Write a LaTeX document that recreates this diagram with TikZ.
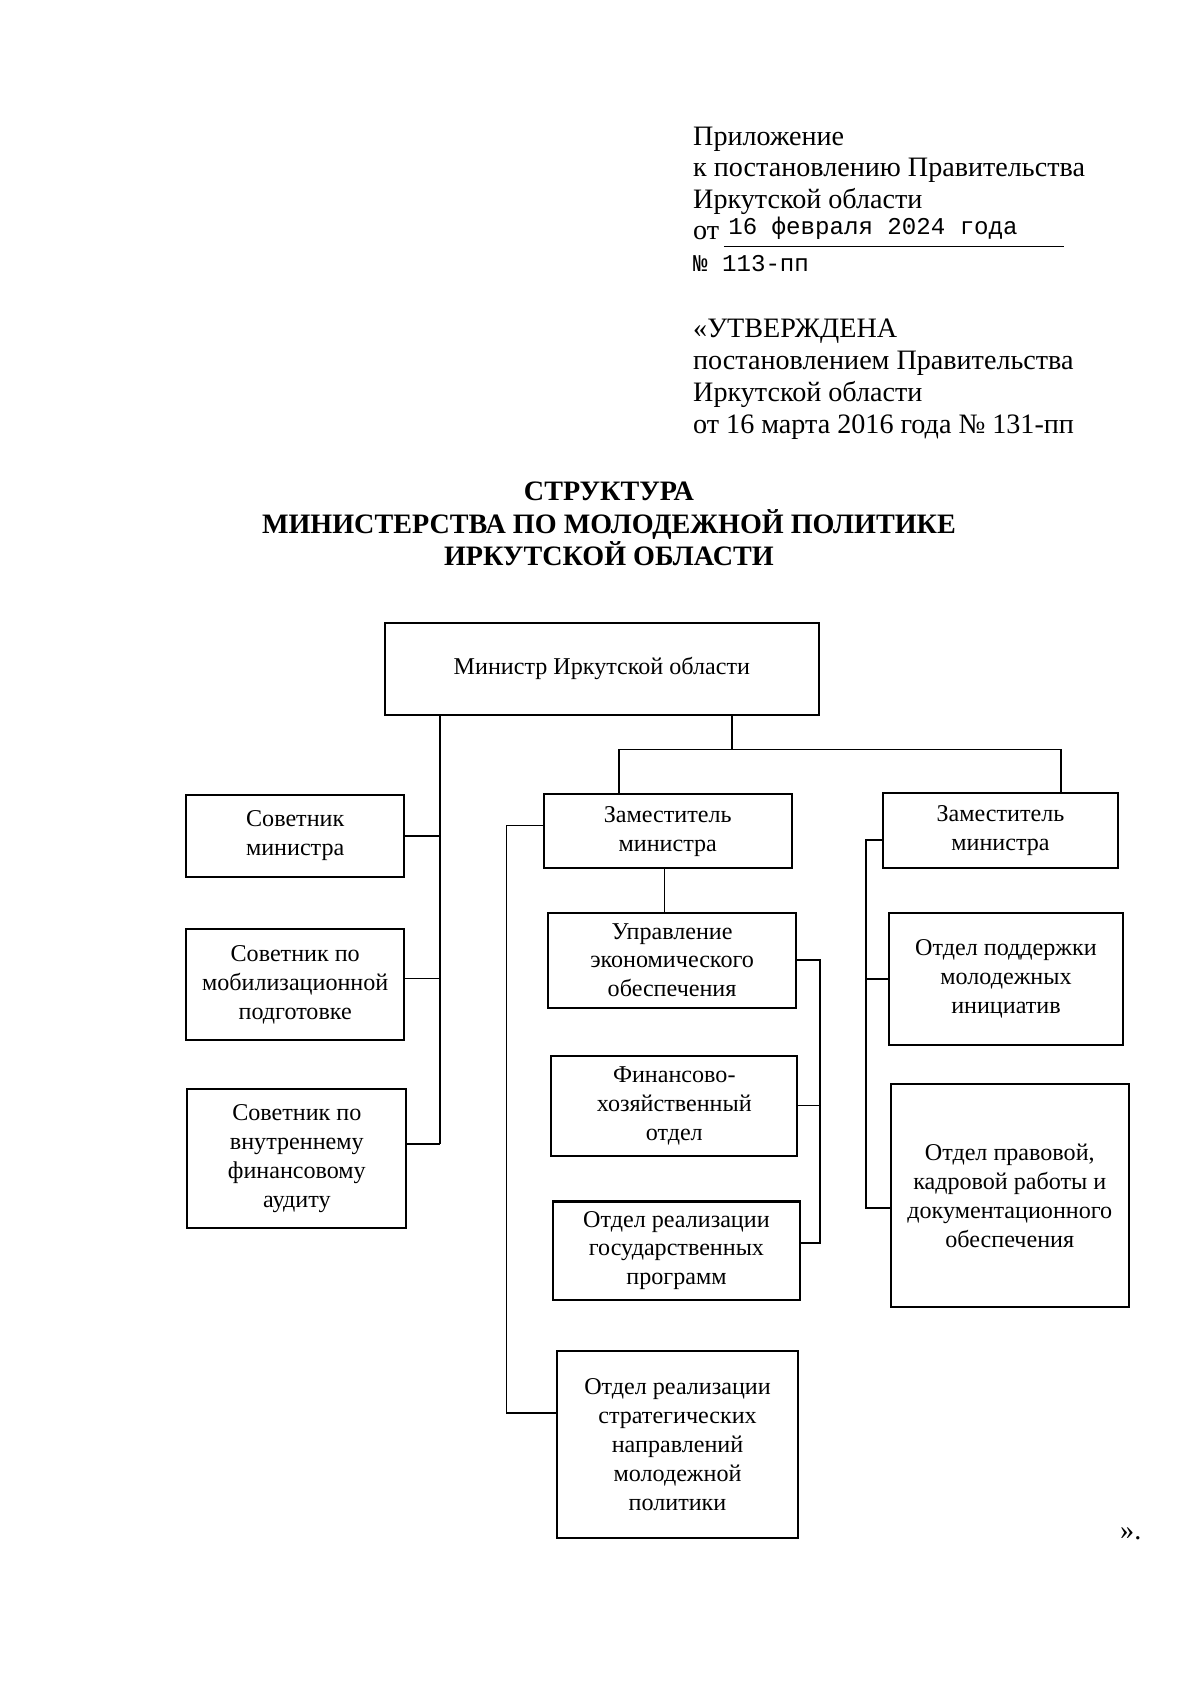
\documentclass[tikz,border=0pt]{standalone}
\usepackage{fontspec}
\setmainfont{Liberation Serif}
\setmonofont{Liberation Mono}
\usetikzlibrary{positioning,calc}

\newcommand{\ed}{0.19056mm}

\begin{document}
\begin{tikzpicture}[
    x=0.19056mm, y=-0.19056mm,
    font=\fontsize{12}{14.4}\selectfont,
    blok/.style 2 args={draw, line width=1pt, minimum width=#1*\ed,
                 minimum height=#2*\ed, inner sep=1pt, align=center},
    linia/.style={line width=0.8pt},
    shapka/.style={anchor=north west, inner sep=0pt, align=left,
                   font=\fontsize{14}{15.7}\selectfont}
]
\useasboundingbox (0,0) rectangle (1102,1568);

% шапка документа
\node[shapka] (pril) at (636,116) {Приложение\\к постановлению Правительства\\Иркутской области\\от\rlap{\hspace{1.6mm}\raisebox{2.5pt}{\ttfamily\fontsize{12}{14}\selectfont 16 февраля 2024 года}}\hspace{0.8mm}\rule[-3.5pt]{59.6mm}{0.5pt}\\{\ttfamily\fontsize{12}{14}\selectfont № 113-пп}};
\node[shapka, font=\fontsize{14}{16}\selectfont] (utv) at (636,292)
    {«УТВЕРЖДЕНА\\постановлением Правительства\\Иркутской области\\от 16 марта 2016 года № 131-пп};

\node[anchor=north, inner sep=0pt, align=center,
      font=\bfseries\fontsize{14}{16.3}\selectfont] (zagl) at (559,442)
    {СТРУКТУРА\\МИНИСТЕРСТВА ПО МОЛОДЕЖНОЙ ПОЛИТИКЕ\\ИРКУТСКОЙ ОБЛАСТИ};

\node[blok={399}{84}]  (ministr) at (552.5,614)    {Министр Иркутской области};

\node[blok={200}{75}]  (sovet1)  at (271,767.5)    {Советник\\министра};
\node[blok={200}{102}] (sovet2)  at (271,904)      {Советник по\\мобилизационной\\подготовке};
\node[blok={201}{127}] (sovet3)  at (272.5,1063.5) {Советник по\\внутреннему\\финансовому\\аудиту};

\node[blok={228}{68}]  (zam1)    at (613,763)      {Заместитель\\министра};
\node[blok={215}{69}]  (zam2)    at (918.5,762.5)  {Заместитель\\министра};

\node[blok={228}{87}]  (upr)     at (617,881.5)    {Управление\\экономического\\обеспечения};
\node[blok={226}{92}]  (finotd)  at (619,1015)     {Финансово-\\хозяйственный\\отдел};
\node[blok={226}{90}]  (gosprog) at (621,1148)     {Отдел реализации\\государственных\\программ};
\node[blok={222}{172}] (strat)   at (622,1326)     {Отдел реализации\\стратегических\\направлений\\молодежной\\политики};

\node[blok={215}{121}] (podd)    at (923.5,898.5)  {Отдел поддержки\\молодежных\\инициатив};
\node[blok={218}{205}] (prav)    at (927,1097.5)   {Отдел правовой,\\кадровой работы и\\документационного\\обеспечения};

\node[anchor=base west, inner sep=0pt, font=\fontsize{14}{16}\selectfont] (kav) at (1028,1413) {».};

% советники висят на общей вертикальной шине
\coordinate (shinaS) at (404,0);
\draw[linia] (ministr.south -| shinaS) -- ([yshift=2.5mm]sovet3.east -| shinaS);
\draw[linia] (sovet1.east) -- (sovet1.east -| shinaS);
\draw[linia] ([yshift=1.1mm]sovet2.east) -- ([yshift=1.1mm]sovet2.east -| shinaS);
\draw[linia] ([yshift=2.5mm]sovet3.east) -- ([yshift=2.5mm]sovet3.east -| shinaS);

% министр -- заместители
\coordinate (razv) at (672,688);
\coordinate (r1) at (568,688);
\coordinate (r2) at (974,688);
\draw[linia] (ministr.south -| razv) -- (razv);
\draw[linia] (zam1.north -| r1) -- (r1) -- (r2) -- (zam2.north -| r2);

% первый заместитель
\coordinate (shina1) at (465,0);
\draw[linia] ([yshift=1mm]zam1.west) -- ([yshift=1mm]zam1.west -| shina1)
    -- ([yshift=5.5mm]strat.west -| shina1) -- ([yshift=5.5mm]strat.west);
\draw[linia] (zam1.south -| 610,0) -- (upr.north -| 610,0);

\coordinate (shina2) at (753,0);
\draw[linia] (upr.east) -- (upr.east -| shina2)
    -- ([yshift=1.3mm]gosprog.east -| shina2) -- ([yshift=1.3mm]gosprog.east);
\draw[linia] (finotd.east) -- (finotd.east -| shina2);

% второй заместитель
\coordinate (shina3) at (795,0);
\draw[linia] ([yshift=-1.6mm]zam2.west) -- ([yshift=-1.6mm]zam2.west -| shina3)
    -- ([yshift=-2.2mm]prav.west -| shina3) -- ([yshift=-2.2mm]prav.west);
\draw[linia] (podd.west) -- (podd.west -| shina3);

\end{tikzpicture}
\end{document}
